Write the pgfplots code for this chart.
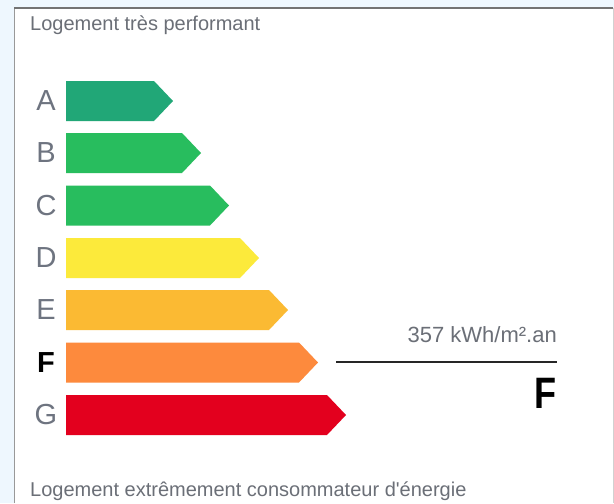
\documentclass[border=0pt]{standalone}
\usepackage{pgfplots}
\pgfplotsset{compat=1.18}
\usepackage{fontspec}
\setmainfont{Liberation Sans}[Ligatures=TeXOff]

\definecolor{bgblue}{HTML}{EEF7FE}
\definecolor{txtgray}{HTML}{6B6F77}
\definecolor{lblgray}{HTML}{6E7480}
\definecolor{cA}{HTML}{21A777}
\definecolor{cB}{HTML}{28BD5E}
\definecolor{cC}{HTML}{28BD5E}
\definecolor{cD}{HTML}{FCEA3B}
\definecolor{cE}{HTML}{FBBA33}
\definecolor{cF}{HTML}{FD8A3D}
\definecolor{cG}{HTML}{E3001E}

\begin{document}
\begin{tikzpicture}
\begin{axis}[
    scale only axis,
    width=614pt, height=503pt,
    xmin=0, xmax=614, ymin=0, ymax=503,
    y dir=reverse,
    hide axis,
    clip=false,
]
% panel
\fill[bgblue] (0,0) rectangle (614,503);
\fill[white] (14,8) rectangle (613,503);
\draw[gray!80, line width=1.5pt] (14.5,503) -- (14.5,8);
\draw[black!55, line width=2pt] (14,8) -- (613,8);
\draw[black!18, line width=1pt] (613,8) -- (613,503);

% energy class bars (arrow shapes), y = top/bottom of each bar
\addplot[fill=cA, draw=none] coordinates {(66,81) (154,81) (173,101) (154,121) (66,121)} -- cycle;
\addplot[fill=cB, draw=none] coordinates {(66,133) (182,133) (201,153) (182,173) (66,173)} -- cycle;
\addplot[fill=cC, draw=none] coordinates {(66,185.5) (210,185.5) (229,205.5) (210,225.5) (66,225.5)} -- cycle;
\addplot[fill=cD, draw=none] coordinates {(66,238) (240,238) (259,258) (240,278) (66,278)} -- cycle;
\addplot[fill=cE, draw=none] coordinates {(66,290) (269,290) (288,310) (269,330) (66,330)} -- cycle;
\addplot[fill=cF, draw=none] coordinates {(66,342.5) (299,342.5) (318,362.5) (299,382.5) (66,382.5)} -- cycle;
\addplot[fill=cG, draw=none] coordinates {(66,395) (327,395) (346,415) (327,435) (66,435)} -- cycle;

% class letters
\begin{scope}[every node/.style={text=lblgray, font=\fontsize{29}{30}\selectfont}]
\node at (46,101) {A};
\node at (46,153) {B};
\node at (46,205.5) {C};
\node at (46,258) {D};
\node at (46,310) {E};
\node[text=black, font=\fontsize{29}{30}\selectfont\bfseries] at (46,362.5) {F};
\node at (46,415) {G};
\end{scope}

% captions
\node[anchor=base west, inner sep=0pt, text=txtgray, font=\fontsize{20}{22}\selectfont] at (30,30) {Logement très performant};
\node[anchor=base west, inner sep=0pt, text=txtgray, font=\fontsize{20}{22}\selectfont] at (30,496) {Logement extrêmement consommateur d'énergie};

% value marker
\draw[black!85, line width=2pt] (336,362) -- (557,362);
\node[anchor=base east, inner sep=0pt, text=txtgray, font=\fontsize{22}{23}\selectfont] at (557,342) {357 kWh/m².an};
\node[anchor=base east, inner sep=0pt, font=\fontsize{44}{44}\selectfont\bfseries] at (557,408) {\scalebox{0.82}[1]{F}};
\end{axis}
\end{tikzpicture}
\end{document}
